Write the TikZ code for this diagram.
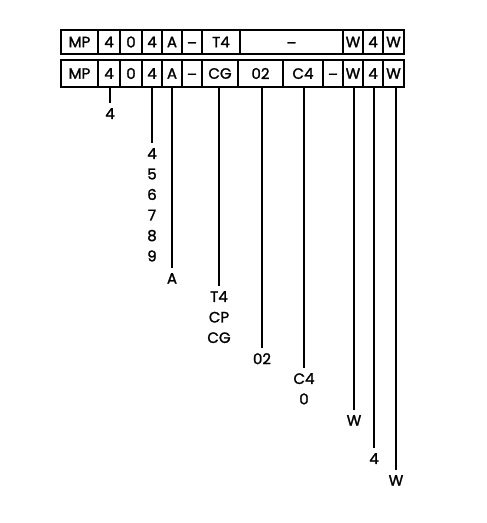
\documentclass[tikz,border=0pt]{standalone}
\usepackage{fontspec}
\setmainfont{Poppins}[FakeBold=1.5]
\usetikzlibrary{positioning}
\newcommand{\lowdash}{\vphantom{M}\raisebox{-2pt}{--}}
\tikzset{
  cell/.style={rectangle,draw=black,line width=1.6pt,inner sep=0pt,outer sep=0pt,font=\fontsize{15}{16}\selectfont},
  toprow/.style={cell,minimum height=24pt},
  botrow/.style={cell,minimum height=27pt},
  lbl/.style={anchor=north,inner sep=5pt,align=center,font=\fontsize{15}{20.5}\selectfont},
  leg/.style={line width=2pt,draw=black}
}
\begin{document}
\begin{tikzpicture}[x=1pt,y=-1pt]
\useasboundingbox (0,0) rectangle (487,523);
% upper row
\node[toprow,minimum width=37pt,anchor=north west] (tmp) at (61,30) {MP};
\node[toprow,minimum width=22pt,right=0pt of tmp] (t4a) {4};
\node[toprow,minimum width=22pt,right=0pt of t4a] (t0) {0};
\node[toprow,minimum width=20pt,right=0pt of t0] (t4b) {4};
\node[toprow,minimum width=20pt,right=0pt of t4b] (ta) {A};
\node[toprow,minimum width=20pt,right=0pt of ta] (tdash) {\lowdash};
\node[toprow,minimum width=38pt,right=0pt of tdash] (tt4) {T4};
\node[toprow,minimum width=103pt,right=0pt of tt4] (tblank) {\lowdash};
\node[toprow,minimum width=20pt,right=0pt of tblank] (tw1) {W};
\node[toprow,minimum width=20pt,right=0pt of tw1] (t4c) {4};
\node[toprow,minimum width=21pt,right=0pt of t4c] (tw2) {W};
% lower row
\node[botrow,minimum width=37pt,anchor=north west] (bmp) at (61,60) {MP};
\node[botrow,minimum width=22pt,right=0pt of bmp] (b4a) {4};
\node[botrow,minimum width=22pt,right=0pt of b4a] (b0) {0};
\node[botrow,minimum width=20pt,right=0pt of b0] (b4b) {4};
\node[botrow,minimum width=20pt,right=0pt of b4b] (ba) {A};
\node[botrow,minimum width=20pt,right=0pt of ba] (bdash) {\lowdash};
\node[botrow,minimum width=36pt,right=0pt of bdash] (bcg) {CG};
\node[botrow,minimum width=45pt,right=0pt of bcg] (b02) {02};
\node[botrow,minimum width=40pt,right=0pt of b02] (bc4) {C4};
\node[botrow,minimum width=20pt,right=0pt of bc4] (bdash2) {\lowdash};
\node[botrow,minimum width=20pt,right=0pt of bdash2] (bw1) {W};
\node[botrow,minimum width=20pt,right=0pt of bw1] (b4c) {4};
\node[botrow,minimum width=21pt,right=0pt of b4c] (bw2) {W};
% value lists
\node[lbl] (l4a) at (110,103) {4};
\node[lbl] (l4b) at (152,143) {4\\5\\6\\7\\8\\9};
\node[lbl] (la) at (172,268) {A};
\node[lbl] (lcg) at (219,286) {T4\\CP\\CG};
\node[lbl] (l02) at (262,348) {02};
\node[lbl] (lc4) at (304,368) {C4\\0};
\node[lbl] (lw1) at (354,410) {W};
\node[lbl] (l4c) at (374,448) {4};
\node[lbl] (lw2) at (396,470) {W};
\draw[leg] (b4a.south -| l4a.north) -- (l4a.north);
\draw[leg] (b4b.south -| l4b.north) -- (l4b.north);
\draw[leg] (ba.south -| la.north) -- (la.north);
\draw[leg] (bcg.south -| lcg.north) -- (lcg.north);
\draw[leg] (b02.south -| l02.north) -- (l02.north);
\draw[leg] (bc4.south -| lc4.north) -- (lc4.north);
\draw[leg] (bw1.south -| lw1.north) -- (lw1.north);
\draw[leg] (b4c.south -| l4c.north) -- (l4c.north);
\draw[leg] (bw2.south -| lw2.north) -- (lw2.north);
\end{tikzpicture}
\end{document}
